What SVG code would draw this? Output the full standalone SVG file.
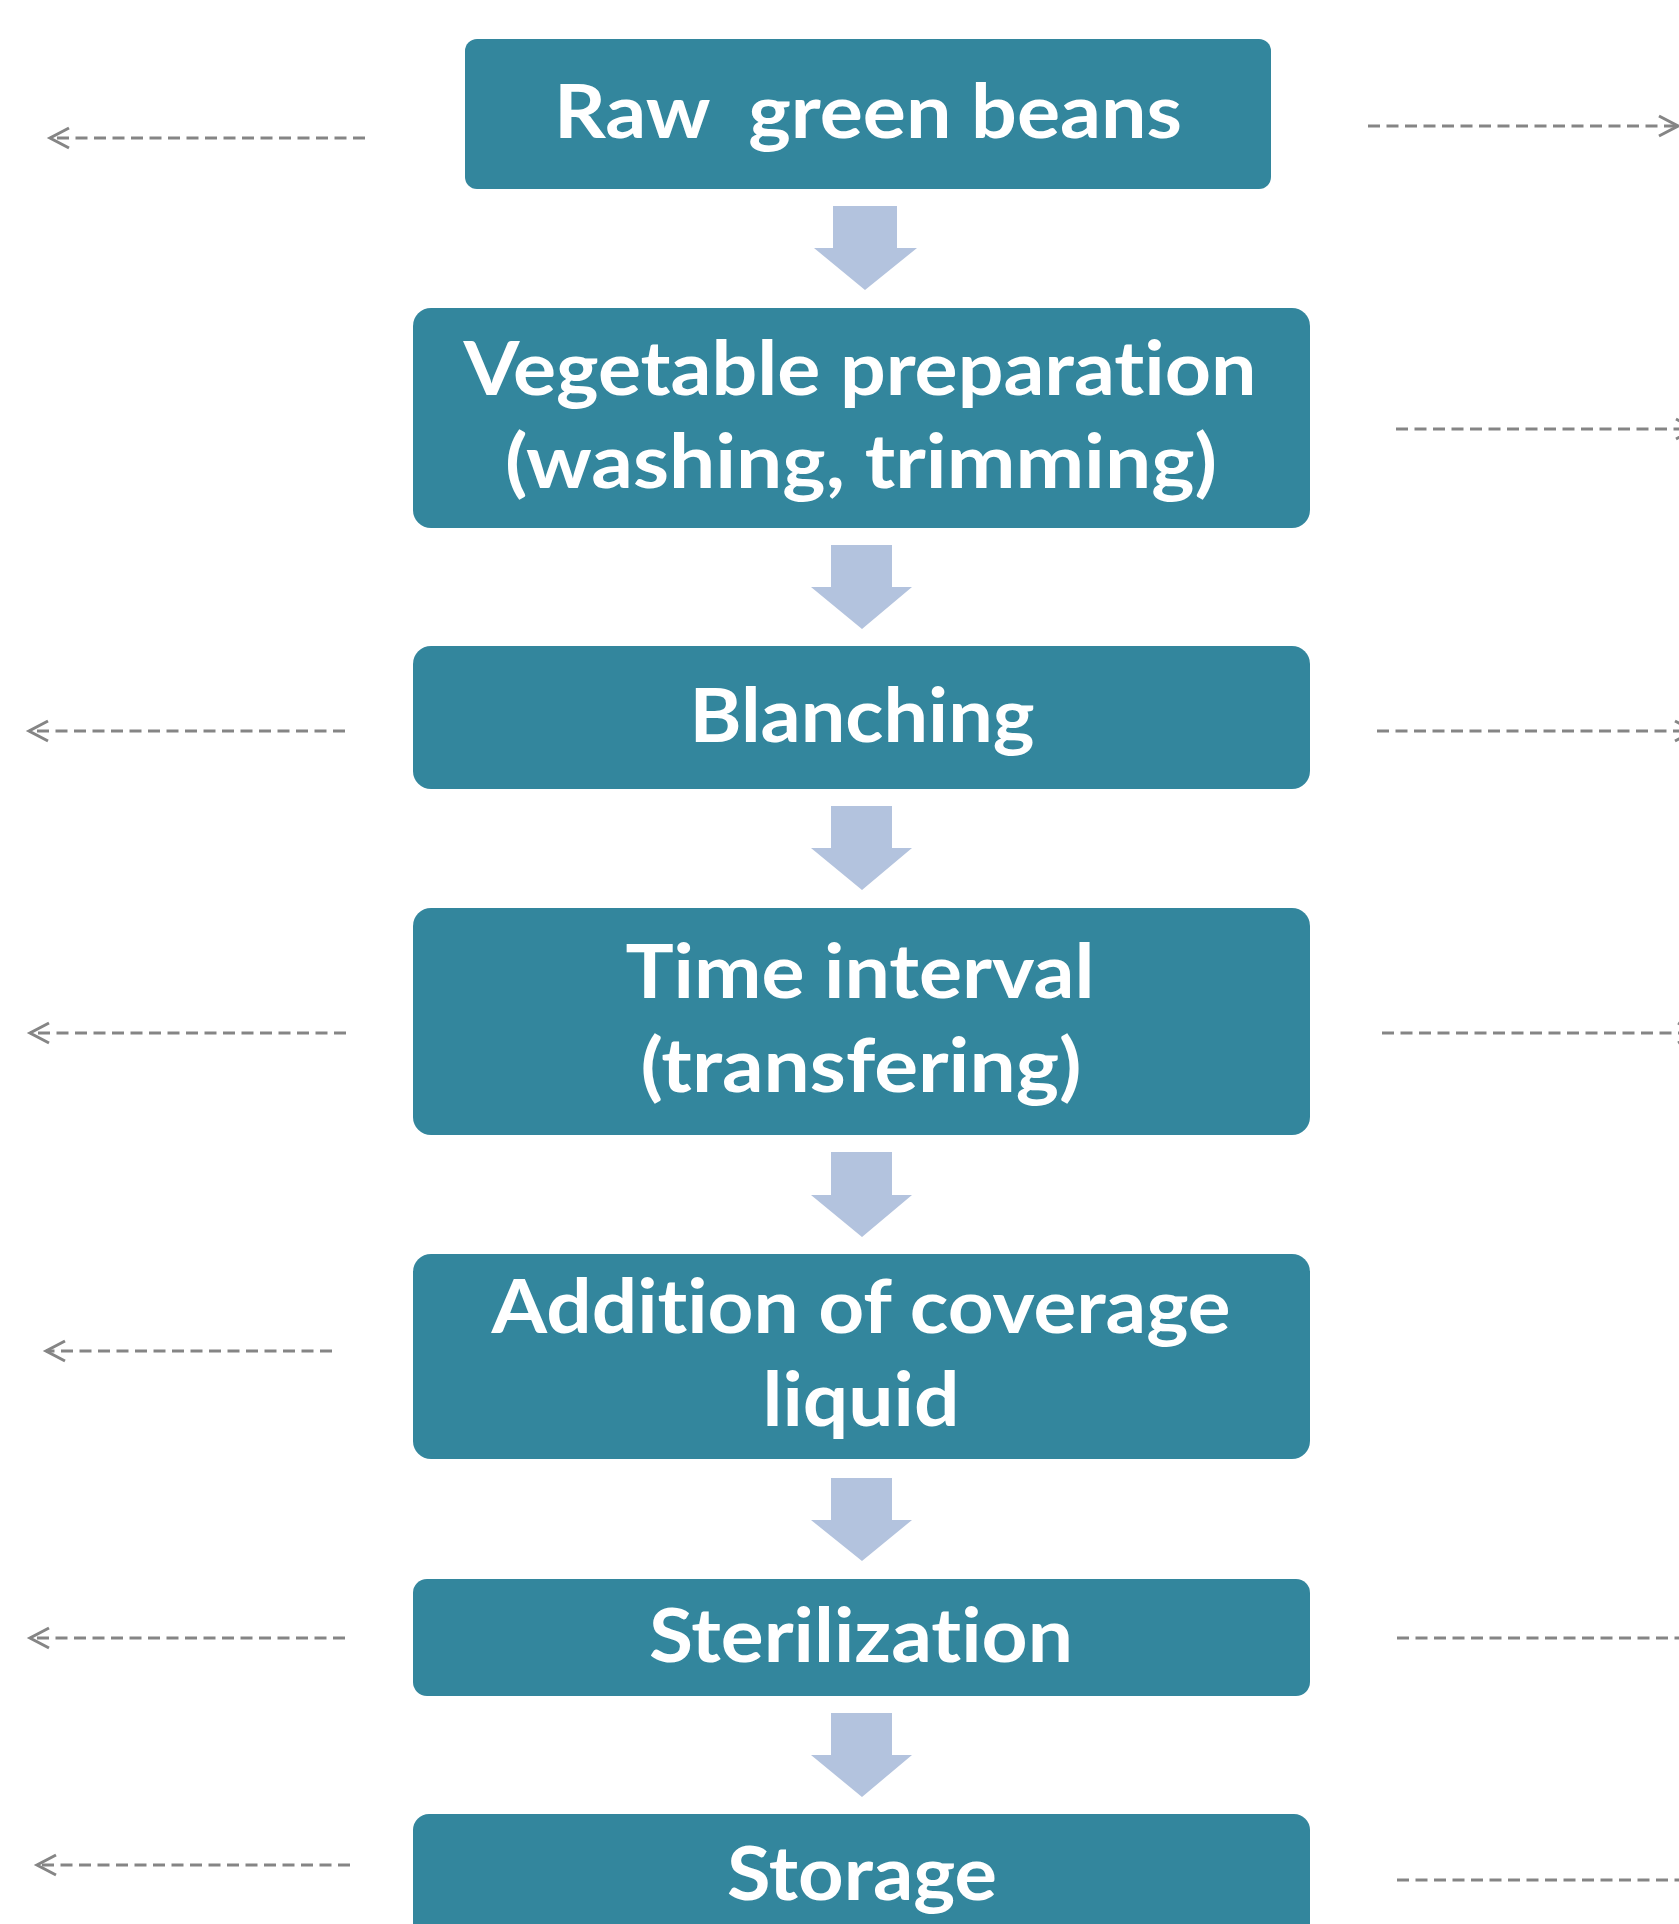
<svg xmlns="http://www.w3.org/2000/svg" width="1679" height="1924" viewBox="0 0 1679 1924">
<style>
.box{fill:#33869D;}
.lbl{font-family:Lato,"Open Sans","Liberation Sans",sans-serif;font-weight:700;font-size:75px;fill:#FFFFFF;text-anchor:middle;font-variant-ligatures:none;font-feature-settings:"liga" 0,"clig" 0;}
.flow{fill:#B3C3DE;}
.dash{fill:none;stroke:#858585;stroke-width:3;stroke-dasharray:12 6.5;marker-end:url(#head);}
</style>
<defs>
<marker id="head" markerUnits="userSpaceOnUse" markerWidth="26" markerHeight="26" refX="21" refY="12" orient="auto" overflow="visible">
<path d="M2,2 L21,12 L2,22" fill="none" stroke="#858585" stroke-width="3"/>
</marker>
</defs>
<rect width="1679" height="1924" fill="#FFFFFF"/>

<g id="n1">
<rect class="box" x="465" y="39" width="806" height="150" rx="12"/>
<text class="lbl" x="868" y="138" textLength="628" lengthAdjust="spacingAndGlyphs" xml:space="preserve">Raw  green beans</text>
</g>
<g id="n2">
<rect class="box" x="413" y="308" width="897" height="220" rx="18"/>
<text class="lbl" x="860" y="395" textLength="793" lengthAdjust="spacingAndGlyphs">Vegetable preparation</text>
<text class="lbl" x="861" y="488" textLength="712" lengthAdjust="spacingAndGlyphs">(washing, trimming)</text>
</g>
<g id="n3">
<rect class="box" x="413" y="646" width="897" height="143" rx="18"/>
<text class="lbl" x="862" y="742" textLength="345" lengthAdjust="spacingAndGlyphs">Blanching</text>
</g>
<g id="n4">
<rect class="box" x="413" y="908" width="897" height="227" rx="18"/>
<text class="lbl" x="860" y="998" textLength="469" lengthAdjust="spacingAndGlyphs">Time interval</text>
<text class="lbl" x="861" y="1092" textLength="441" lengthAdjust="spacingAndGlyphs">(transfering)</text>
</g>
<g id="n5">
<rect class="box" x="413" y="1254" width="897" height="205" rx="18"/>
<text class="lbl" x="861" y="1333" textLength="739" lengthAdjust="spacingAndGlyphs">Addition of coverage</text>
<text class="lbl" x="861" y="1426" textLength="197" lengthAdjust="spacingAndGlyphs">liquid</text>
</g>
<g id="n6">
<rect class="box" x="413" y="1579" width="897" height="117" rx="14"/>
<text class="lbl" x="861" y="1662" textLength="424" lengthAdjust="spacingAndGlyphs">Sterilization</text>
</g>
<g id="n7">
<rect class="box" x="413" y="1814" width="897" height="140" rx="16"/>
<text class="lbl" x="862" y="1900" textLength="270" lengthAdjust="spacingAndGlyphs">Storage</text>
</g>

<g id="connectors">
<polygon class="flow" points="833,206 897,206 897,248 917,248 865,290 814,248 833,248"/>
<polygon class="flow" points="831,545 892,545 892,587 912,587 862,629 811,587 831,587"/>
<polygon class="flow" points="831,806 892,806 892,848 912,848 862,890 811,848 831,848"/>
<polygon class="flow" points="831,1152 892,1152 892,1195 912,1195 862,1237 811,1195 831,1195"/>
<polygon class="flow" points="831,1478 892,1478 892,1520 912,1520 862,1561 811,1520 831,1520"/>
<polygon class="flow" points="831,1713 892,1713 892,1755 912,1755 862,1797 811,1755 831,1755"/>

<path class="dash" d="M365,138 L50,138"/>
<path class="dash" d="M345,731 L29,731"/>
<path class="dash" d="M346,1033 L30,1033"/>
<path class="dash" d="M332,1351 L46,1351"/>
<path class="dash" d="M345,1638 L30,1638"/>
<path class="dash" d="M350,1865 L37,1865"/>

<path class="dash" d="M1368,126 L1678,126"/>
<path class="dash" d="M1396,429 L1695,429"/>
<path class="dash" d="M1377,731 L1694,731"/>
<path class="dash" d="M1382,1033 L1697,1033"/>
<path class="dash" d="M1397,1638 L1720,1638"/>
<path class="dash" d="M1397,1880 L1720,1880"/>
</g>
</svg>
